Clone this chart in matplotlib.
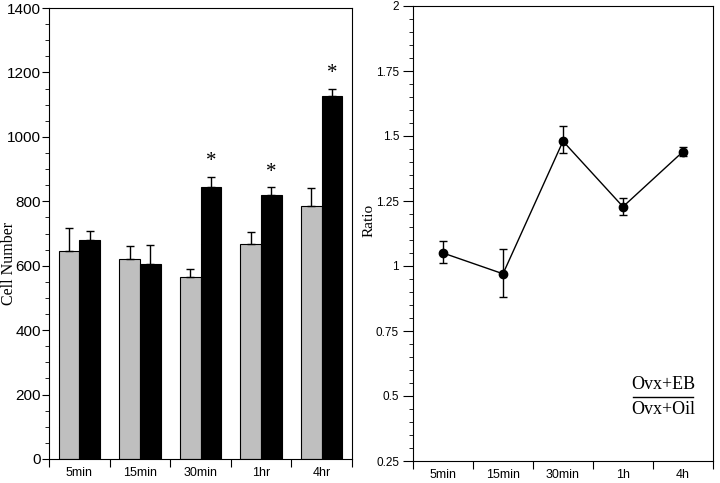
import numpy as np
import matplotlib.pyplot as plt
from matplotlib.ticker import MultipleLocator

# Left panel: cell numbers
bar_labels = ["5min", "15min", "30min", "1hr", "4hr"]
oil_mean = [645, 622, 566, 668, 786]
oil_err = [73, 38, 24, 37, 54]
eb_mean = [680, 605, 845, 818, 1128]
eb_err = [28, 60, 30, 25, 20]
signif = [False, False, True, True, True]

# Right panel: ratio
ratio_labels = ["5min", "15min", "30min", "1h", "4h"]
ratio = [1.05, 0.97, 1.48, 1.228, 1.44]
ratio_lo = [0.04, 0.09, 0.045, 0.03, 0.015]
ratio_hi = [0.045, 0.095, 0.06, 0.034, 0.018]

sans = ["Liberation Sans", "DejaVu Sans"]
serif = ["Liberation Serif", "DejaVu Serif"]

fig = plt.figure(figsize=(7.2, 4.83), dpi=100)
ax1 = fig.add_axes([49 / 720, 24 / 483, 303 / 720, 451 / 483])
ax2 = fig.add_axes([413 / 720, 22 / 483, 300 / 720, 455 / 483])

x = np.arange(len(bar_labels))
w = 0.34
ax1.bar(x - w / 2, oil_mean, w, color="#bfbfbf", edgecolor="black", linewidth=0.8,
        yerr=[np.zeros(5), oil_err], error_kw=dict(capsize=3, elinewidth=1, capthick=1), zorder=2)
ax1.bar(x + w / 2, eb_mean, w, color="black", edgecolor="black", linewidth=0.8,
        yerr=[np.zeros(5), eb_err], error_kw=dict(capsize=3, elinewidth=1, capthick=1), zorder=2)
for i in range(len(x)):
    if signif[i]:
        ax1.text(x[i] + w / 2, eb_mean[i] + eb_err[i] + 18, "*", ha="center", va="bottom",
                 fontsize=15, family=serif)

ax1.set_xlim(-0.5, 4.5)
ax1.set_ylim(0, 1400)
ax1.yaxis.set_major_locator(MultipleLocator(200))
ax1.yaxis.set_minor_locator(MultipleLocator(50))
ax1.set_xticks(np.arange(-0.5, 5, 1))
ax1.set_xticklabels([])
ax1.set_xticks(x, minor=True)
ax1.set_xticklabels(bar_labels, minor=True, family=sans, fontsize=9)
ax1.tick_params(axis="x", which="minor", length=0, pad=6)
ax1.tick_params(axis="x", which="major", length=6, direction="out")
ax1.tick_params(axis="y", which="major", length=5, labelsize=11, pad=1)
ax1.tick_params(axis="y", which="minor", length=3)
for lab in ax1.get_yticklabels():
    lab.set_family(sans)
fig.text(9 / 720, 1 - 263 / 483, "Cell Number", rotation=90, ha="center", va="center",
         family=serif, fontsize=11.5)

xr = np.arange(len(ratio_labels))
ax2.errorbar(xr, ratio, yerr=[ratio_lo, ratio_hi], color="black", marker="o", markersize=6,
             linewidth=1, capsize=3, elinewidth=1, capthick=1)
ax2.set_xlim(-0.5, 4.5)
ax2.set_ylim(0.25, 2)
ax2.yaxis.set_minor_locator(MultipleLocator(0.05))
ax2.set_yticks([0.25, 0.5, 0.75, 1, 1.25, 1.5, 1.75, 2])
ax2.set_yticklabels(["0.25", "0.5", "0.75", "1", "1.25", "1.5", "1.75", "2"], family=sans, fontsize=8.5)
ax2.set_xticks(np.arange(-0.5, 5, 1))
ax2.set_xticklabels([])
ax2.set_xticks(xr, minor=True)
ax2.set_xticklabels(ratio_labels, minor=True, family=sans, fontsize=9)
ax2.tick_params(axis="x", which="minor", length=0, pad=6)
ax2.tick_params(axis="x", which="major", length=6)
ax2.tick_params(axis="y", which="major", length=7, pad=3)
ax2.tick_params(axis="y", which="minor", length=3)
fig.text(369 / 720, 1 - 220 / 483, "Ratio", rotation=90, ha="center", va="center",
         family=serif, fontsize=11)

ax2.text(3.67, 0.545, "Ovx+EB", ha="center", va="center", family=serif, fontsize=13)
ax2.text(3.67, 0.448, "Ovx+Oil", ha="center", va="center", family=serif, fontsize=13)
ax2.plot([3.17, 4.17], [0.497, 0.497], color="black", linewidth=1)

fig.savefig("out.png", dpi=100)
